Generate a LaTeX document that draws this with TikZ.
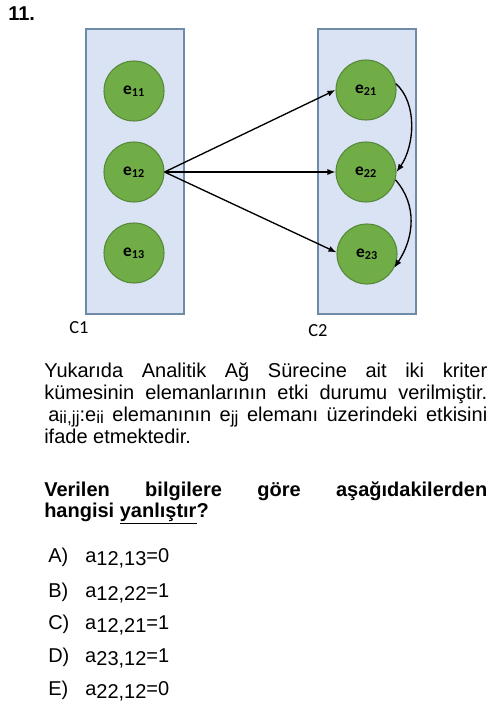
\documentclass[tikz,border=0pt]{standalone}
\usepackage{fontspec}
\setmainfont{Liberation Sans}
\newfontfamily\carlito{Carlito}
\usetikzlibrary{arrows.meta}
\definecolor{boxfill}{HTML}{DAE3F3}
\definecolor{boxline}{HTML}{6F8BA8}
\definecolor{circfill}{HTML}{70AD47}
\definecolor{circline}{HTML}{55883A}
\newcommand{\psub}[1]{\raisebox{-2.2pt}{\fontsize{13}{14}\selectfont #1}}
\newcommand{\optsub}[1]{\raisebox{-2.3pt}{#1}}
\begin{document}
\begin{tikzpicture}[x=0.75pt,y=-0.75pt,
  cluster/.style={draw=boxline, fill=boxfill, line width=0.9pt, minimum width=73.5pt, minimum height=213.75pt, inner sep=0pt},
  elem/.style={circle, draw=circline, fill=circfill, minimum size=45pt, inner sep=0pt, line width=0.8pt, font=\carlito\bfseries\fontsize{13}{15}\selectfont},
  conn/.style={-{Latex[length=6pt,width=4.6pt]}, line width=1pt},
  clabel/.style={anchor=base west, inner sep=0pt, font=\carlito\fontsize{13.8}{16}\selectfont},
  txt/.style={anchor=base west, inner sep=0pt, font=\fontsize{15}{18}\selectfont},
  btxt/.style={anchor=base west, inner sep=0pt, font=\bfseries\fontsize{15}{18}\selectfont}
]
\useasboundingbox (0,0) rectangle (500,706);

\node[btxt] (num) at (8,21) {11.};

% clusters
\node[cluster] (C1box) at (135,171.5) {};
\node[cluster] (C2box) at (367,171.5) {};
\node[clabel] (C1) at (69,333) {C1};
\node[clabel] (C2) at (308,336) {C2};

% elements
\node[elem] (e11) at (134,91) {e\textsubscript{11}};
\node[elem] (e12) at (134,172) {e\textsubscript{12}};
\node[elem] (e13) at (134,253) {e\textsubscript{13}};
\node[elem] (e21) at (366,90) {e\textsubscript{21}};
\node[elem] (e22) at (366,172) {e\textsubscript{22}};
\node[elem] (e23) at (367,254) {e\textsubscript{23}};

% connectors
\draw[conn] (e12.east) -- (e21.west);
\draw[conn] (e12.east) -- (e22.west);
\draw[conn] (e12.east) -- (e23.177);
\draw[conn] (e21.12) .. controls +(22,20) and +(18,-26) .. (e22.0);
\draw[conn] (e22.-15) .. controls +(22,25) and +(20,-30) .. (e23.-27);

% paragraph
\node[txt] (p1) at (44,377) {\makebox[332.25pt][s]{Yukarıda Analitik Ağ Sürecine ait iki kriter}};
\node[txt] (p2) at (44,399) {\makebox[332.25pt][s]{kümesinin elemanlarının etki durumu verilmiştir.}};
\node[txt] (p3) at (48,421) {\makebox[329.25pt][s]{a\psub{ii,jj}:e\psub{ii} elemanının e\psub{jj} elemanı üzerindeki etkisini}};
\node[txt] (p4) at (44,443) {ifade etmektedir.};

% question
\node[btxt] (q1) at (44,496) {\makebox[332.25pt][s]{Verilen bilgilere göre aşağıdakilerden}};
\node[btxt] (q2) at (44,517) {hangisi \underline{yanlıştır}?};

% options
\node[txt] (oA) at (48,562) {\makebox[27.75pt][l]{A)}a\optsub{12,13}=0};
\node[txt] (oB) at (48,597) {\makebox[27.75pt][l]{B)}a\optsub{12,22}=1};
\node[txt] (oC) at (48,629) {\makebox[27.75pt][l]{C)}a\optsub{12,21}=1};
\node[txt] (oD) at (48,662) {\makebox[27.75pt][l]{D)}a\optsub{23,12}=1};
\node[txt] (oE) at (48,695) {\makebox[27.75pt][l]{E)}a\optsub{22,12}=0};
\end{tikzpicture}
\end{document}
